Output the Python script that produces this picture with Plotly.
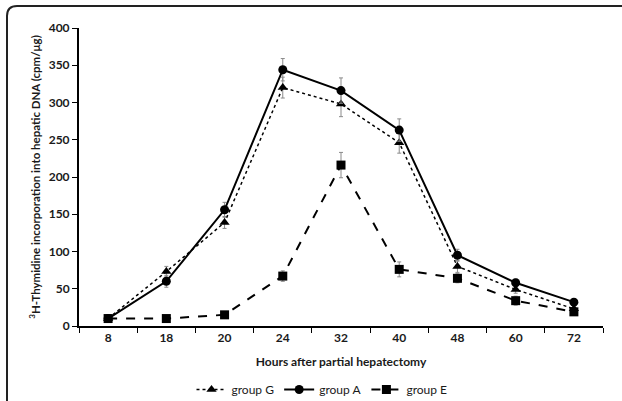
import plotly.graph_objects as go

hours = ["8", "18", "20", "24", "32", "40", "48", "60", "72"]
group_g = [10, 73, 139, 320, 298, 246, 80, 49, 23]
group_g_err = [3, 7, 8, 14, 17, 14, 8, 5, 4]
group_a = [10, 60, 156, 344, 316, 263, 95, 58, 32]
group_a_err = [3, 8, 10, 15, 17, 15, 8, 5, 4]
group_e = [10, 10, 15, 67, 216, 76, 64, 34, 19]
group_e_err = [2, 2, 3, 7, 17, 10, 6, 6, 4]

FONT = "Lato"

def err(v):
    return dict(type="data", array=v, visible=True, color="#8a8a8a", thickness=1, width=2)

fig = go.Figure()
fig.add_trace(go.Scatter(
    x=hours, y=group_g, name="group G", mode="lines+markers",
    line=dict(color="black", width=1.5, dash="dot"),
    marker=dict(symbol="triangle-up", size=9, color="black"),
    error_y=err(group_g_err)))
fig.add_trace(go.Scatter(
    x=hours, y=group_a, name="group A", mode="lines+markers",
    line=dict(color="black", width=2),
    marker=dict(symbol="circle", size=9, color="black"),
    error_y=err(group_a_err)))
fig.add_trace(go.Scatter(
    x=hours, y=group_e, name="group E", mode="lines+markers",
    line=dict(color="black", width=2, dash="dash"),
    marker=dict(symbol="square", size=9, color="black"),
    error_y=err(group_e_err)))

L, R, T, B = 79, 603, 28, 326
W, H = 622, 401

def px(x):
    return (x - L) / (R - L)

def py(y):
    return (B - y) / (B - T)

x0, y0r = px(7), py(6)
x1, ybot = px(640), py(420)
rx = 10 / (R - L)
ry = 10 / (B - T)
path = (f"M {x0},{ybot} L {x0},{y0r - ry} Q {x0},{y0r} {x0 + rx},{y0r} "
        f"L {x1},{y0r}")

fig.update_layout(
    template="none",
    width=W, height=H,
    margin=dict(l=L, r=W - R, t=T, b=H - B, autoexpand=False),
    paper_bgcolor="white", plot_bgcolor="white",
    font=dict(family=FONT, color="#1a1a1a"),
    showlegend=True,
    legend=dict(orientation="h", x=px(322), xanchor="center", y=py(404), yanchor="bottom",
                font=dict(size=12, family=FONT), itemwidth=30, traceorder="normal",
                bgcolor="rgba(0,0,0,0)"),
    xaxis=dict(
        type="category", range=[-0.5, 8.5], showline=True, linecolor="black", linewidth=1.5,
        ticks="outside", tickson="boundaries", ticklen=5, tickcolor="black", tickwidth=1,
        showgrid=False, zeroline=False, automargin=False,
        tickfont=dict(size=12, family=FONT, weight="bold"),
        title=dict(text="<b>Hours after partial hepatectomy</b>", font=dict(size=12), standoff=13),
    ),
    yaxis=dict(
        range=[0, 400], dtick=50, showline=True, linecolor="black", linewidth=2,
        ticks="outside", ticklen=5, tickcolor="black", tickwidth=1,
        showgrid=False, zeroline=False, automargin=False,
        tickfont=dict(size=12, family=FONT, weight="bold"),
        title=dict(text="<b><sup>3</sup>H-Thymidine incorporation into hepatic DNA (cpm/μg)</b>",
                   font=dict(size=11.5), standoff=6),
    ),
    shapes=[dict(type="path", path=path, xref="paper", yref="paper",
                 line=dict(color="#222222", width=2), layer="above")],
)

fig.write_html("out.html", config={"displayModeBar": False},
               post_script="document.body.style.margin='0';document.body.style.overflow='hidden';")
